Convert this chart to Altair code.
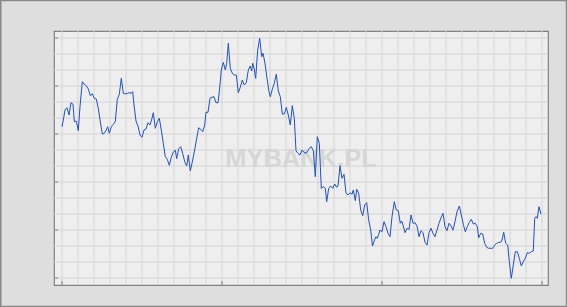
import altair as alt
import pandas as pd

# series (x: day offset, y: value in arbitrary units)
day = [0, 1, 3, 5, 7, 9, 11, 12.3, 14.3, 16.3, 18, 20.3, 22.3, 24.3, 26.3, 28.3, 30.3, 32.3, 34.3, 36.3,
       38.3, 40.3, 42.3, 44.3, 45.7, 47.3, 49.3, 51.3, 53.3, 55.3, 57.3, 59.3, 61.3, 63.3, 65.3, 67.3, 69.3, 70.7, 72, 74,
       76, 78, 80, 82, 84, 86, 88, 90, 91.3, 93.3, 95.3, 97.3, 99.3, 101.3, 103.3, 105.3, 107.3, 109.3, 111.3, 113.3,
       114.7, 116.7, 118.7, 120.7, 122.7, 124.7, 126.3, 128.3, 130.7, 132.7, 134.7, 136.7, 138.7, 140.7, 142.7, 144, 146, 148, 150, 152,
       154, 156, 157.3, 159.3, 161.3, 163.3, 164.7, 166.3, 168.3, 170.3, 172.3, 174.3, 176.3, 178.3, 180.3, 182.3, 184.3, 186.3, 188.3, 189.7,
       190.7, 192.3, 193.7, 195.7, 197.7, 199.7, 201, 203, 205, 207, 208.3, 210.3, 212.3, 214.3, 216.3, 218.3, 220.3, 222.3, 224.3, 226.3,
       228.3, 230.3, 232.3, 234, 236, 238, 240, 242, 244, 246, 247.3, 249.3, 251.3, 253.3, 255.3, 257.3, 259.3, 261.3, 263.3, 264.7,
       266.7, 268.7, 270.7, 272.7, 274.7, 276, 278, 280, 282, 284, 286, 288, 290, 291.3, 293.3, 294.7, 296.7, 298.7, 300.7, 302.7,
       304.7, 306.7, 308.7, 310.5, 312.5, 314, 315.3, 316.7, 318, 320, 322, 324, 326, 328, 330, 332.3, 334.3, 336.3, 338.3, 339.7,
       341, 343, 345, 347, 349, 351, 353, 355, 357, 359, 361, 363, 365, 367, 369, 371, 373, 375, 377, 379,
       381, 383, 385, 387, 389, 391, 393, 395, 397.3, 399.3, 401.3, 403.3, 405.3, 407.3, 409.3, 411.3, 413.3, 415.3, 416.7, 418.7,
       420.7, 422.7, 424.7, 426.7, 428.7, 430.7, 432.7, 434.7, 436.7, 438.7, 440, 441.7, 443.7, 445.7, 447.3, 449.3, 451.3, 453.3, 455.3, 457.3,
       459.3, 461.3, 463.3, 465.3, 467.3, 469.3, 471.3, 472.7, 474, 475.3, 477, 479]
value = [151.3, 156.3, 168, 170.3, 163, 175.3, 173.7, 156.3, 157, 147.3, 171.3, 196.3, 193.7, 192.3, 189, 182.3, 184.3, 179.7, 179, 169.7,
         156.3, 144, 144.7, 148, 151.3, 144.7, 151.3, 153.7, 156.3, 178.7, 183.7, 199.7, 184.7, 184, 184.7, 185.3, 184.7, 186.3, 173, 157,
         152, 143, 140.7, 148, 149, 155.3, 153, 159.7, 165.3, 149.7, 156.3, 159.7, 148, 134.7, 121.3, 118.7, 112.7, 120.7, 126, 128,
         119.3, 129.3, 131.3, 124.7, 116.3, 112, 123, 107, 118, 128, 139.7, 150.3, 148.7, 146.3, 153, 165.7, 165.7, 179.7, 180.7, 181.3,
         175.3, 175.3, 186.3, 208, 215.7, 208, 214.7, 234.7, 209.7, 204.7, 203, 203, 185.3, 190.7, 198, 193, 195.3, 208, 212, 207,
         214.7, 208.7, 199.7, 228, 239.7, 221.3, 224.7, 214.7, 199.7, 186.3, 181.3, 188.7, 194.7, 203.7, 187, 181.3, 164, 164, 170.7, 163,
         153, 172.3, 159.7, 127, 124.7, 123, 128, 125.7, 124.7, 127.3, 129.7, 131.3, 127.3, 101.3, 141.3, 134.7, 89.7, 91.3, 89.7, 76.3,
         89.7, 92, 89.7, 94, 90.7, 92, 112.3, 99.7, 103.7, 84.7, 83, 85.3, 83.7, 88, 77.3, 88.7, 84.7, 68, 62.3, 73,
         75.3, 58, 48, 32, 38, 41.3, 39.7, 43.7, 48, 46.3, 56.3, 51.3, 44.7, 41.3, 61.3, 76.3, 68, 67.3, 54.7, 57,
         53, 45.3, 49.7, 48.7, 63, 54.7, 55.3, 52, 41.3, 47.3, 45.3, 35.7, 33, 45.3, 49.7, 44.7, 41.3, 48, 54.7, 60.3,
         64.7, 51.3, 47.3, 54.7, 52, 48, 56.3, 66.3, 72, 63, 53.7, 46.3, 51.3, 55.7, 58.7, 54, 54.7, 51.3, 40.3, 44.7,
         44, 34.7, 30.7, 29.7, 29.7, 29.7, 33, 34.7, 35.7, 35.7, 38, 45.7, 34.7, 33, 16.3, -0.3, 13, 26.3, 26.3, 19.7,
         12, 16.3, 19.7, 25.3, 24.7, 26.3, 27, 59.7, 61.3, 59.7, 71.3, 64]

x_ticks = [0, 160, 320, 480]
y_ticks = [0, 48, 96, 144, 192, 240]
x_grid = list(range(0, 481, 16))
y_grid = list(range(0, 241, 16))
watermark = ["MYBANK.PL"]

W, H = 494, 254
xs = alt.Scale(domain=[-8, 486], nice=False, zero=False)
ys = alt.Scale(domain=[-7, 247], nice=False, zero=False)

grid_col = "#d4d4d4"
frame_col = "#808080"

df = pd.DataFrame({"day": day, "value": value})

gx = alt.Chart(pd.DataFrame({"g": x_grid})).mark_rule(color=grid_col, strokeWidth=1).encode(
    x=alt.X("g:Q", scale=xs, axis=None))
gy = alt.Chart(pd.DataFrame({"g": y_grid})).mark_rule(color=grid_col, strokeWidth=1).encode(
    y=alt.Y("g:Q", scale=ys, axis=None))

wm = alt.Chart(pd.DataFrame({"t": watermark})).mark_text(
    font="Liberation Sans", fontSize=25.5, fontWeight="bold", color="#d6d6d6",
    align="center", baseline="alphabetic").encode(
    text="t:N", x=alt.value(247), y=alt.value(136))

line = alt.Chart(df).mark_line(color="#2150c0", strokeWidth=1).encode(
    x=alt.X("day:Q", scale=xs, axis=None),
    y=alt.Y("value:Q", scale=ys, axis=None))

ytk = alt.Chart(pd.DataFrame({"t": y_ticks})).mark_rule(color=frame_col, strokeWidth=1).encode(
    y=alt.Y("t:Q", scale=ys, axis=None), x=alt.value(0), x2=alt.value(4))
xtk = alt.Chart(pd.DataFrame({"t": x_ticks})).mark_rule(color=frame_col, strokeWidth=1).encode(
    x=alt.X("t:Q", scale=xs, axis=None), y=alt.value(H), y2=alt.value(H - 4))

border = alt.Chart(pd.DataFrame({"b": [1]})).mark_rect(
    fill="#dedede", fillOpacity=0, stroke="#888888", strokeWidth=1.5).encode(
    x=alt.value(-53.25), x2=alt.value(512.5), y=alt.value(-30.5), y2=alt.value(275.5))

chart = alt.layer(border, gx, gy, wm, line, ytk, xtk).properties(
    width=W, height=H,
    autosize=alt.AutoSizeParams(type="none"),
    padding={"left": 54, "top": 31, "right": 19, "bottom": 22},
    background="#dedede",
).configure_view(fill="#eeeeee", stroke=frame_col, strokeWidth=1.2)

chart.save("out.html", embed_options={"renderer": "svg", "actions": False})
